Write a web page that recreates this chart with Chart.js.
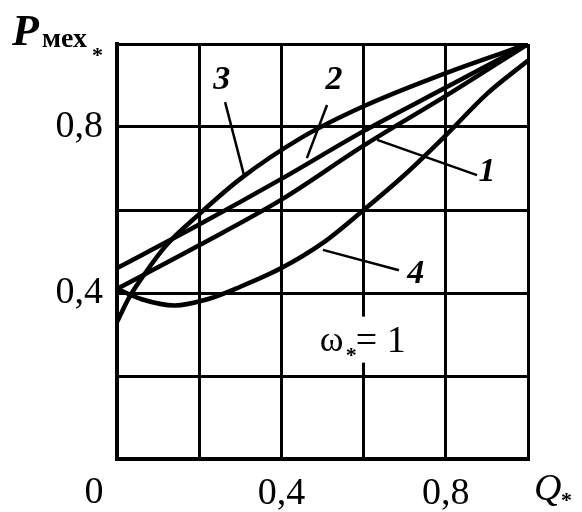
<!DOCTYPE html>
<html>
<head>
<meta charset="utf-8">
<script src="https://cdn.jsdelivr.net/npm/chart.js@4/dist/chart.umd.min.js"></script>
<style>
  html, body { margin: 0; padding: 0; background: #fff; }
  #wrap { width: 582px; height: 512px; }
</style>
</head>
<body>
<div id="wrap"><canvas id="grafica" width="582" height="512"></canvas></div>
<script>
// Q* values and P_mex* values
const qMain = [0, 0.2, 0.4, 0.6, 0.8, 1];
const curve1 = [0.41, 0.515, 0.625, 0.755, 0.875, 1];
const curve2 = [0.46, 0.565, 0.675, 0.79, 0.895, 1];

const q3 = [0, 0.03, 0.07, 0.12, 0.2, 0.3, 0.45, 0.6, 0.8, 1];
const curve3 = [0.33, 0.39, 0.45, 0.515, 0.59, 0.675, 0.775, 0.85, 0.93, 1];

const q4 = [0, 0.06, 0.14, 0.22, 0.3, 0.4, 0.5, 0.6, 0.7, 0.8, 0.9, 1];
const curve4 = [0.41, 0.385, 0.37, 0.385, 0.415, 0.46, 0.52, 0.6, 0.685, 0.78, 0.88, 0.96];

const xTickLabels = ['0,4', '0,8'];
const yTickLabels = ['0,4', '0,8'];

// curve numbers: label position, then leader line from -> to (data units)
const curveNames = ['1', '2', '3', '4'];
const namePos = [[0.90, 0.69], [0.528, 0.913], [0.255, 0.913], [0.727, 0.446]];
const leaderFrom = [[0.876, 0.684], [0.511, 0.853], [0.263, 0.86], [0.686, 0.455]];
const leaderTo = [[0.633, 0.769], [0.462, 0.725], [0.309, 0.684], [0.501, 0.504]];

const pts = (xs, ys) => xs.map((v, i) => ({x: v, y: ys[i]}));
const serif = '"Liberation Serif", "Times New Roman", serif';

const line = (label, data) => ({
  label: label,
  data: data,
  borderColor: '#000',
  borderWidth: 4.5,
  pointRadius: 0,
  fill: false,
  cubicInterpolationMode: 'monotone'
});

const texts = {
  id: 'texts',
  afterDraw(chart) {
    const ctx = chart.ctx;
    const x = chart.scales.x, y = chart.scales.y;
    ctx.save();
    ctx.fillStyle = '#000';
    ctx.strokeStyle = '#000';

    // leaders and curve numbers
    ctx.lineWidth = 2.5;
    for (let i = 0; i < curveNames.length; i++) {
      ctx.beginPath();
      ctx.moveTo(x.getPixelForValue(leaderFrom[i][0]), y.getPixelForValue(leaderFrom[i][1]));
      ctx.lineTo(x.getPixelForValue(leaderTo[i][0]), y.getPixelForValue(leaderTo[i][1]));
      ctx.stroke();
      ctx.font = 'italic bold 34px ' + serif;
      ctx.textAlign = 'center';
      ctx.textBaseline = 'middle';
      ctx.fillText(curveNames[i], x.getPixelForValue(namePos[i][0]), y.getPixelForValue(namePos[i][1]));
    }

    // omega note with white box under it
    const ox = x.getPixelForValue(0.61), oy = y.getPixelForValue(0.29);
    ctx.fillStyle = '#fff';
    ctx.fillRect(ox - 50, oy - 22, 104, 46);
    ctx.fillStyle = '#000';
    ctx.textAlign = 'left';
    ctx.textBaseline = 'alphabetic';
    ctx.font = '36px ' + serif;
    ctx.fillText('ω', ox - 48, oy + 12);
    ctx.font = 'bold 22px ' + serif;
    ctx.fillText('*', ox - 22, oy + 23);
    ctx.font = '38px ' + serif;
    ctx.fillText('= 1', ox - 12, oy + 13);

    // axis names
    ctx.font = 'italic bold 44px ' + serif;
    ctx.fillText('P', 12, 45);
    ctx.font = 'bold 28px ' + serif;
    ctx.fillText('мех', 42, 47);
    ctx.font = 'bold 22px ' + serif;
    ctx.fillText('*', 92, 62);

    ctx.font = 'italic 38px ' + serif;
    ctx.fillText('Q', 534, 500);
    ctx.font = 'bold 22px ' + serif;
    ctx.fillText('*', 561, 507);

    // common zero
    ctx.font = '38px ' + serif;
    ctx.textAlign = 'center';
    ctx.fillText('0', 94, 503);
    ctx.restore();
  }
};

const tickText = (labels, v) => {
  if (Math.abs(v - 0.4) < 1e-6) return labels[0];
  if (Math.abs(v - 0.8) < 1e-6) return labels[1];
  return '';
};

new Chart(document.getElementById('grafica'), {
  type: 'line',
  data: {
    datasets: [
      line('1', pts(qMain, curve1)),
      line('2', pts(qMain, curve2)),
      line('3', pts(q3, curve3)),
      line('4', pts(q4, curve4))
    ]
  },
  options: {
    responsive: false,
    animation: false,
    layout: {padding: {top: 44, right: 54, left: 0, bottom: 0}},
    plugins: {legend: {display: false}, tooltip: {enabled: false}},
    scales: {
      x: {
        type: 'linear', min: 0, max: 1,
        afterFit: s => { s.height = 53; },
        grid: {color: '#000', lineWidth: 3, drawTicks: false},
        border: {color: '#000', width: 4},
        ticks: {
          stepSize: 0.2, padding: 12, color: '#000', maxRotation: 0, autoSkip: false,
          font: {family: serif, size: 38},
          callback: v => tickText(xTickLabels, v)
        }
      },
      y: {
        type: 'linear', min: 0, max: 1,
        afterFit: s => { s.width = 117; },
        grid: {color: '#000', lineWidth: 3, drawTicks: false},
        border: {color: '#000', width: 4},
        ticks: {
          stepSize: 0.2, padding: 14, color: '#000', autoSkip: false,
          font: {family: serif, size: 38},
          callback: v => tickText(yTickLabels, v)
        }
      }
    }
  },
  plugins: [texts]
});
</script>
</body>
</html>
